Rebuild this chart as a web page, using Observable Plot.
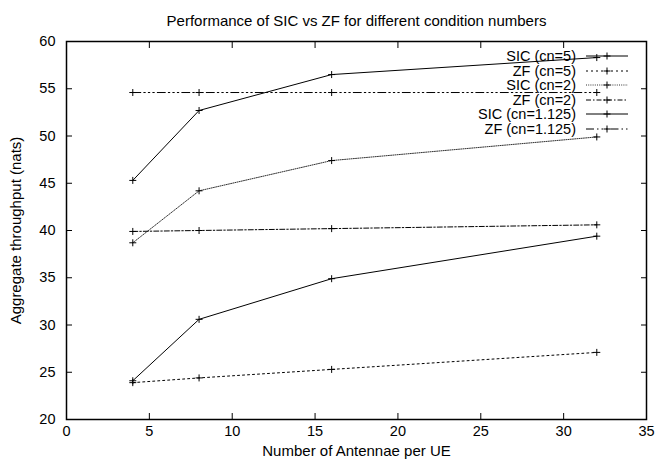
<!DOCTYPE html>
<html>
<head>
<meta charset="utf-8">
<script src="https://cdn.jsdelivr.net/npm/d3@7"></script>
<script src="https://cdn.jsdelivr.net/npm/@observablehq/plot@0.6"></script>
<style>
  html, body { margin: 0; padding: 0; background: #fff; }
  #wrap { position: relative; width: 656px; height: 466px; font-family: "Liberation Sans", Arial, Helvetica, sans-serif; }
  #legend { position: absolute; left: 400px; top: 49px; width: 228px; }
  .row { display: flex; align-items: center; justify-content: flex-end; height: 14.5px; font-size: 14.5px; color: #000; }
  .row span { display: block; white-space: nowrap; margin-right: 10px; height: 14.5px; line-height: 14.5px; overflow: visible; }
  .row svg { display: block; }
</style>
</head>
<body>
<div id="wrap"><div id="legend"></div></div>
<script>
// ---- data ----
const title = "Performance of SIC vs ZF for different condition numbers";
const xLabel = "Number of Antennae per UE";
const yLabel = "Aggregate throughput (nats)";
const xTicks = [0, 5, 10, 15, 20, 25, 30, 35];
const yTicks = [20, 25, 30, 35, 40, 45, 50, 55, 60];
const antennas = [4, 8, 16, 32];
const seriesNames = ["SIC (cn=5)", "ZF (cn=5)", "SIC (cn=2)", "ZF (cn=2)", "SIC (cn=1.125)", "ZF (cn=1.125)"];
const sicCn5 = [24.1, 30.6, 34.9, 39.4];
const zfCn5 = [23.9, 24.4, 25.3, 27.1];
const sicCn2 = [38.7, 44.2, 47.4, 49.9];
const zfCn2 = [39.9, 40.0, 40.2, 40.6];
const sicCn1125 = [45.3, 52.7, 56.5, 58.3];
const zfCn1125 = [54.6, 54.6, 54.6, 54.6];
const seriesValues = [sicCn5, zfCn5, sicCn2, zfCn2, sicCn1125, zfCn1125];

// ---- styles (separate from data) ----
const dashes = [null, "2,3", "1,1.2", "5,2,1.5,2", null, "8,3,1.5,3,1.5,3,1.5,3"];
const strokes = ["#000", "#000", "#333", "#000", "#000", "#000"];

const rows = [];
seriesNames.forEach((name, i) => {
  antennas.forEach((a, j) => rows.push({series: name, idx: i, x: a, y: seriesValues[i][j]}));
});

const plusSymbol = {
  draw(ctx, size) {
    const h = Math.sqrt(size / Math.PI);
    ctx.moveTo(-h, 0); ctx.lineTo(h, 0);
    ctx.moveTo(0, -h); ctx.lineTo(0, h);
  }
};

const font = "'Liberation Sans', Arial, Helvetica, sans-serif";

const lineMarks = seriesNames.map((name, i) =>
  Plot.line(rows.filter(d => d.idx === i), {
    x: "x", y: "y", stroke: strokes[i], strokeWidth: 1,
    strokeDasharray: dashes[i] || undefined
  })
);

const chart = Plot.plot({
  width: 656,
  height: 466,
  marginLeft: 66,
  marginRight: 10,
  marginTop: 41,
  marginBottom: 47,
  style: {fontFamily: font, fontSize: "14px", background: "#fff", color: "#000"},
  x: {domain: [0, 35]},
  y: {domain: [20, 60]},
  marks: [
    Plot.axisX({ticks: xTicks, tickSize: -6, tickPadding: 12, label: null, fontSize: 14.5}),
    Plot.axisX({anchor: "top", ticks: xTicks, tickSize: -6, tickFormat: () => "", label: null}),
    Plot.axisY({ticks: yTicks, tickSize: -6, tickPadding: 17, label: null, fontSize: 14.5}),
    Plot.axisY({anchor: "right", ticks: yTicks, tickSize: -6, tickFormat: () => "", label: null}),
    ...lineMarks,
    Plot.dot(rows, {x: "x", y: "y", symbol: plusSymbol, r: 3.5, stroke: "#000", fill: "none", strokeWidth: 1}),
    Plot.frame({stroke: "#000", strokeWidth: 1.5}),
    Plot.text([title], {frameAnchor: "top", dy: -26, fontSize: 15, textAnchor: "middle"}),
    Plot.text([xLabel], {frameAnchor: "bottom", dy: 36, fontSize: 15, textAnchor: "middle"}),
    Plot.text([yLabel], {frameAnchor: "left", dx: -50, rotate: -90, fontSize: 15, textAnchor: "middle"})
  ]
});
document.getElementById("wrap").prepend(chart);

// ---- legend ----
const legend = document.getElementById("legend");
seriesNames.forEach((name, i) => {
  const row = document.createElement("div");
  row.className = "row";
  const span = document.createElement("span");
  span.textContent = name;
  row.appendChild(span);
  const ns = "http://www.w3.org/2000/svg";
  const svg = document.createElementNS(ns, "svg");
  svg.setAttribute("width", 42); svg.setAttribute("height", 14);
  const line = document.createElementNS(ns, "line");
  line.setAttribute("x1", 0); line.setAttribute("x2", 42);
  line.setAttribute("y1", 7); line.setAttribute("y2", 7);
  line.setAttribute("stroke", strokes[i]);
  line.setAttribute("stroke-width", 1);
  if (dashes[i]) line.setAttribute("stroke-dasharray", dashes[i]);
  svg.appendChild(line);
  const plus = document.createElementNS(ns, "path");
  plus.setAttribute("d", "M17.5,7H24.5M21,3.5V10.5");
  plus.setAttribute("stroke", "#000");
  plus.setAttribute("fill", "none");
  svg.appendChild(plus);
  row.appendChild(svg);
  legend.appendChild(row);
});
</script>
</body>
</html>
